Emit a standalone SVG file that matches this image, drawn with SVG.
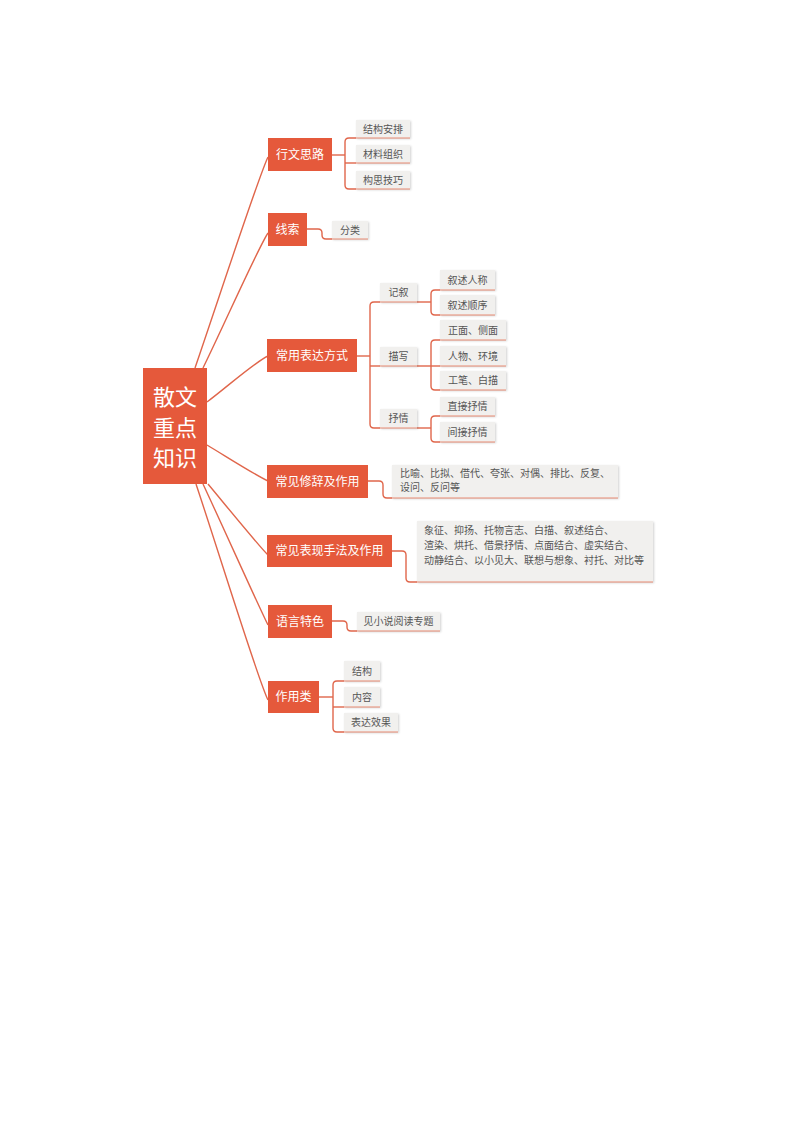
<svg xmlns="http://www.w3.org/2000/svg" width="800" height="1132" viewBox="0 0 800 1132">
<defs>
<filter id="sh" x="-10%" y="-20%" width="130%" height="160%">
<feDropShadow dx="1" dy="1" stdDeviation="0.8" flood-color="#000" flood-opacity="0.18"/>
</filter>
<style>
.root{fill:#E5593B}
.br{fill:#E5593B}
.bt{fill:#fff;font-family:"Noto Sans CJK SC","Noto Sans",sans-serif;font-size:12px;text-anchor:middle}
.rt{fill:#fff;font-family:"Noto Sans CJK SC","Noto Sans",sans-serif;font-size:22px;text-anchor:middle}
.lf{fill:#F1F0EE;filter:url(#sh)}
.lt{fill:#555;font-family:"Noto Sans CJK SC","Noto Sans",sans-serif;font-size:10px;text-anchor:middle}
.ltl{fill:#555;font-family:"Noto Sans CJK SC","Noto Sans",sans-serif;font-size:10px}
.c{fill:none;stroke:#E0664B;stroke-width:1.4}
.u{fill:none;stroke:#E88A72;stroke-width:1.2}
</style>
</defs>
<rect width="800" height="1132" fill="#fff"/>

<g id="connectors">
<path class="c" d="M195,368 C219,298 258,178 268,157"/>
<path class="c" d="M203,368 C225,323 258,248 268,233"/>
<path class="c" d="M207,402 C227,387 255,362 268,356"/>
<path class="c" d="M207,445 C227,457 255,475 268,481"/>
<path class="c" d="M208,484 C228,508 258,545 268,555"/>
<path class="c" d="M203,484 C225,531 258,605 268,625"/>
<path class="c" d="M196,484 C220,556 258,680 268,700"/>
<path class="c" d="M332,155 H345"/>
<path class="c" d="M356,138 H349 Q345,138 345,142 V185 Q345,189 349,189 H356"/>
<path class="c" d="M345,163 H356"/>
<path class="c" d="M307,229 H318 Q322,229 322,233 V235 Q322,239 326,239 H332"/>
<path class="c" d="M357,356 H370"/>
<path class="c" d="M380,302 H374 Q370,302 370,306 V424 Q370,428 374,428 H380"/>
<path class="c" d="M370,366 H380"/>
<path class="c" d="M417,302 H431"/>
<path class="c" d="M440,290 H435 Q431,290 431,294 V311 Q431,315 435,315 H440"/>
<path class="c" d="M417,366 H440"/>
<path class="c" d="M440,340 H435 Q431,340 431,344 V386 Q431,390 435,390 H440"/>
<path class="c" d="M417,428 H431"/>
<path class="c" d="M440,416 H435 Q431,416 431,420 V438 Q431,442 435,442 H440"/>
<path class="c" d="M368,481 H379 Q383,481 383,485 V494 Q383,498 387,498 H392"/>
<path class="c" d="M392,551 H402 Q406,551 406,555 V578 Q406,582 410,582 H417"/>
<path class="c" d="M332,621 H343 Q347,621 347,625 V627 Q347,631 351,631 H357"/>
<path class="c" d="M319,697 H333"/>
<path class="c" d="M344,681 H337 Q333,681 333,685 V728 Q333,732 337,732 H344"/>
<path class="c" d="M333,707 H344"/>
</g>

<g id="root">
<rect class="root" x="143" y="368" width="64" height="116"/>
<text class="rt" x="175" y="405">散文</text>
<text class="rt" x="175" y="436">重点</text>
<text class="rt" x="175" y="466">知识</text>
</g>

<g id="b1">
<rect class="br" x="268" y="138" width="64" height="33"/>
<text class="bt" x="300" y="159">行文思路</text>
</g>
<g id="b1l1"><rect class="lf" x="356" y="120" width="54" height="18"/><line class="u" x1="356" y1="138" x2="410" y2="138"/><text class="lt" x="383" y="133">结构安排</text></g>
<g id="b1l2"><rect class="lf" x="356" y="145" width="54" height="18"/><line class="u" x1="356" y1="163" x2="410" y2="163"/><text class="lt" x="383" y="158">材料组织</text></g>
<g id="b1l3"><rect class="lf" x="356" y="171" width="54" height="18"/><line class="u" x1="356" y1="189" x2="410" y2="189"/><text class="lt" x="383" y="184">构思技巧</text></g>

<g id="b2">
<rect class="br" x="268" y="213" width="39" height="33"/>
<text class="bt" x="287.500" y="234">线索</text>
</g>
<g id="b2l1"><rect class="lf" x="332" y="221" width="36" height="18"/><line class="u" x1="332" y1="239" x2="368" y2="239"/><text class="lt" x="350" y="234">分类</text></g>

<g id="b3">
<rect class="br" x="267" y="339" width="90" height="33"/>
<text class="bt" x="312" y="360">常用表达方式</text>
</g>
<g id="b3m1"><rect class="lf" x="380" y="283" width="37" height="19"/><line class="u" x1="380" y1="302" x2="417" y2="302"/><text class="lt" x="398.500" y="296">记叙</text></g>
<g id="b3m2"><rect class="lf" x="380" y="347" width="37" height="19"/><line class="u" x1="380" y1="366" x2="417" y2="366"/><text class="lt" x="398.500" y="360">描写</text></g>
<g id="b3m3"><rect class="lf" x="380" y="409" width="37" height="19"/><line class="u" x1="380" y1="428" x2="417" y2="428"/><text class="lt" x="398.500" y="422">抒情</text></g>
<g id="b3l1"><rect class="lf" x="440" y="270" width="55" height="20"/><line class="u" x1="440" y1="290" x2="495" y2="290"/><text class="lt" x="467.500" y="284">叙述人称</text></g>
<g id="b3l2"><rect class="lf" x="440" y="295" width="55" height="20"/><line class="u" x1="440" y1="315" x2="495" y2="315"/><text class="lt" x="467.500" y="309">叙述顺序</text></g>
<g id="b3l3"><rect class="lf" x="440" y="320" width="66" height="20"/><line class="u" x1="440" y1="340" x2="506" y2="340"/><text class="lt" x="473" y="334">正面、侧面</text></g>
<g id="b3l4"><rect class="lf" x="440" y="346" width="66" height="20"/><line class="u" x1="440" y1="366" x2="506" y2="366"/><text class="lt" x="473" y="360">人物、环境</text></g>
<g id="b3l5"><rect class="lf" x="440" y="371" width="66" height="19"/><line class="u" x1="440" y1="390" x2="506" y2="390"/><text class="lt" x="473" y="384">工笔、白描</text></g>
<g id="b3l6"><rect class="lf" x="440" y="397" width="55" height="19"/><line class="u" x1="440" y1="416" x2="495" y2="416"/><text class="lt" x="467.500" y="410">直接抒情</text></g>
<g id="b3l7"><rect class="lf" x="440" y="422" width="55" height="20"/><line class="u" x1="440" y1="442" x2="495" y2="442"/><text class="lt" x="467.500" y="436">间接抒情</text></g>

<g id="b4">
<rect class="br" x="267" y="465" width="101" height="33"/>
<text class="bt" x="317.500" y="486">常见修辞及作用</text>
</g>
<g id="b4l1"><rect class="lf" x="392" y="465" width="226" height="33"/><line class="u" x1="392" y1="498" x2="618" y2="498"/>
<text class="ltl" x="400" y="477">比喻、比拟、借代、夸张、对偶、排比、反复、</text>
<text class="ltl" x="400" y="491">设问、反问等</text></g>

<g id="b5">
<rect class="br" x="267" y="535" width="125" height="32"/>
<text class="bt" x="329.500" y="555">常见表现手法及作用</text>
</g>
<g id="b5l1"><rect class="lf" x="417" y="521" width="236" height="61"/><line class="u" x1="417" y1="582" x2="653" y2="582"/>
<text class="ltl" x="424" y="534">象征、抑扬、托物言志、白描、叙述结合、</text>
<text class="ltl" x="424" y="549">渲染、烘托、借景抒情、点面结合、虚实结合、</text>
<text class="ltl" x="424" y="564">动静结合、以小见大、联想与想象、衬托、对比等</text></g>

<g id="b6">
<rect class="br" x="268" y="605" width="64" height="33"/>
<text class="bt" x="300" y="626">语言特色</text>
</g>
<g id="b6l1"><rect class="lf" x="357" y="612" width="83" height="19"/><line class="u" x1="357" y1="631" x2="440" y2="631"/><text class="lt" x="398.500" y="625">见小说阅读专题</text></g>

<g id="b7">
<rect class="br" x="268" y="681" width="51" height="32"/>
<text class="bt" x="293.500" y="701">作用类</text>
</g>
<g id="b7l1"><rect class="lf" x="344" y="661" width="36" height="20"/><line class="u" x1="344" y1="681" x2="380" y2="681"/><text class="lt" x="362" y="675">结构</text></g>
<g id="b7l2"><rect class="lf" x="344" y="687" width="36" height="20"/><line class="u" x1="344" y1="707" x2="380" y2="707"/><text class="lt" x="362" y="701">内容</text></g>
<g id="b7l3"><rect class="lf" x="344" y="713" width="54" height="19"/><line class="u" x1="344" y1="732" x2="398" y2="732"/><text class="lt" x="371" y="726">表达效果</text></g>
</svg>
